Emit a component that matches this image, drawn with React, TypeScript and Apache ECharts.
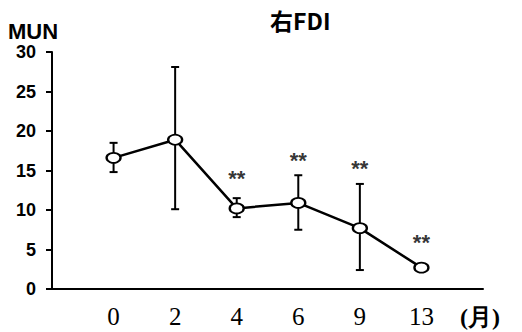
import React, { useEffect, useRef } from "react";
import * as echarts from "echarts";

const months = ["0", "2", "4", "6", "9", "13"];
const meanMUN = [16.6, 18.9, 10.2, 10.9, 7.7, 2.7];
const errUpper = [18.5, 28.1, 11.5, 14.4, 13.3, 2.7];
const errLower = [14.8, 10.1, 9.1, 7.5, 2.4, 2.7];
const sigMonths = ["4", "6", "9", "13"];
const sigY = [14.0, 16.3, 15.3, 5.9];
const yTicks = [0, 5, 10, 15, 20, 25, 30];

export default function App() {
  const ref = useRef<HTMLDivElement>(null);
  useEffect(() => {
    if (!ref.current) return;
    const chart = echarts.init(ref.current, null, { renderer: "svg" });
    const idx = (m: string) => months.indexOf(m) + 1;
    const lineData = meanMUN.map((v, i) => [i + 1, v]);
    const errData = months
      .map((m, i) => [i + 1, errLower[i], errUpper[i]])
      .filter((d) => d[2] - d[1] > 0.01);
    const sigData = sigMonths.map((m, i) => [idx(m), sigY[i]]);
    chart.setOption({
      animation: false,
      backgroundColor: "#fff",
      title: {
        text: "右FDI",
        left: 265,
        top: 3,
        textStyle: {
          fontFamily: "Noto Sans CJK JP",
          fontWeight: "bold",
          fontSize: 23,
          color: "#000",
        },
      },
      graphic: [
        {
          type: "text",
          left: 8,
          top: 20,
          style: {
            text: "MUN",
            fontFamily: "Liberation Sans",
            fontWeight: "bold",
            fontSize: 22,
            fill: "#000",
          },
        },
      ],
      grid: { left: 52, right: 39, top: 52, bottom: 43, containLabel: false },
      xAxis: {
        type: "value",
        min: 0,
        max: 7,
        interval: 1,
        name: "(月)",
        nameLocation: "end",
        nameGap: -23,
        nameTextStyle: {
          fontFamily: "Liberation Serif",
          fontSize: 24,
          fontWeight: "bold",
          color: "#000",
          verticalAlign: "top",
          padding: [16, 0, 0, 0],
        },
        axisLine: { lineStyle: { color: "#000", width: 2 } },
        axisTick: { show: false },
        splitLine: { show: false },
        axisLabel: {
          margin: 15,
          fontFamily: "Liberation Serif",
          fontSize: 25,
          color: "#000",
          showMaxLabel: false,
          formatter: (v: number) => months[v - 1] ?? "",
        },
      },
      yAxis: {
        type: "value",
        min: yTicks[0],
        max: yTicks[yTicks.length - 1],
        interval: 5,
        axisLine: { show: true, lineStyle: { color: "#000", width: 2 } },
        axisTick: { show: true, length: 6, lineStyle: { color: "#000", width: 2 } },
        splitLine: { show: false },
        axisLabel: {
          margin: 16,
          fontFamily: "Liberation Sans",
          fontWeight: "bold",
          fontSize: 18,
          color: "#000",
        },
      },
      series: [
        {
          type: "custom",
          z: 1,
          data: errData,
          renderItem: (params: any, api: any) => {
            const x = api.value(0);
            const lo = api.coord([x, api.value(1)]);
            const hi = api.coord([x, api.value(2)]);
            const cap = 4;
            const st = { stroke: "#000", lineWidth: 2 };
            return {
              type: "group",
              children: [
                { type: "line", shape: { x1: lo[0], y1: lo[1], x2: hi[0], y2: hi[1] }, style: st },
                { type: "line", shape: { x1: hi[0] - cap, y1: hi[1], x2: hi[0] + cap, y2: hi[1] }, style: st },
                { type: "line", shape: { x1: lo[0] - cap, y1: lo[1], x2: lo[0] + cap, y2: lo[1] }, style: st },
              ],
            };
          },
        },
        {
          type: "line",
          z: 3,
          data: lineData,
          symbol: "circle",
          symbolSize: [14, 10],
          showAllSymbol: true,
          lineStyle: { color: "#000", width: 2.5 },
          itemStyle: { color: "#fff", borderColor: "#000", borderWidth: 2 },
        },
        {
          type: "scatter",
          z: 4,
          data: sigData,
          symbolSize: 0,
          label: {
            show: true,
            position: "inside",
            formatter: "**",
            fontFamily: "Liberation Sans",
            fontWeight: "bold",
            fontSize: 22,
            color: "#000",
          },
        },
      ],
    });
    return () => chart.dispose();
  }, []);
  return (
    <div
      ref={ref}
      style={{ position: "fixed", left: 0, top: 0, width: 522, height: 332 }}
    />
  );
}
